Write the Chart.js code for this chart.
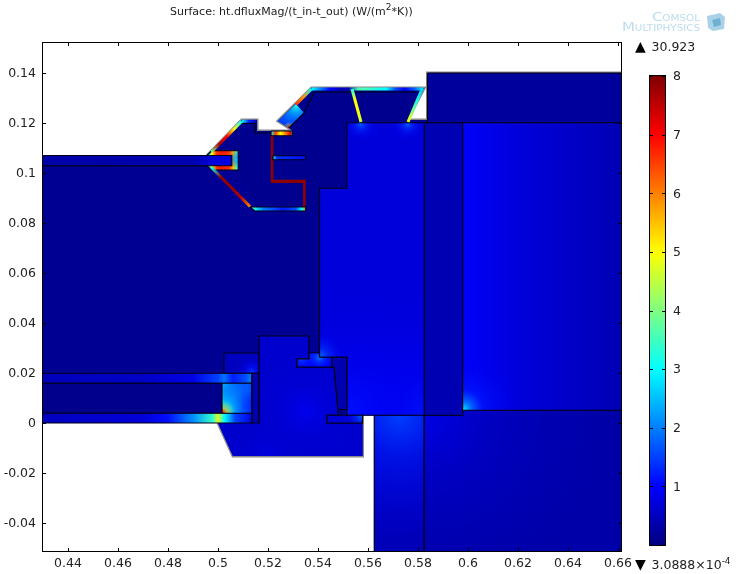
<!DOCTYPE html>
<html lang="en">
<head>
  <meta charset="UTF-8">
  <title>Surface: ht.dfluxMag/(t_in-t_out)</title>
  <script src="https://cdn.jsdelivr.net/npm/chart.js"></script>
  <style>
    html, body { margin: 0; padding: 0; background: #fff; }
    body { width: 741px; height: 574px; position: relative; overflow: hidden; font-family: "DejaVu Sans", sans-serif; color: #222; }
    canvas { position: absolute; }
    .label { position: absolute; white-space: nowrap; font-size: 12.5px; }
    .label sup { font-size: 9px; line-height: 0; }
    .label .mark { display: inline-block; width: 16.5px; font-size: 14px; color: #000; }
    #title { left: 170px; top: 5px; font-size: 11px; }
    #maxLabel { left: 635px; top: 38px; }
    #minLabel { left: 635px; top: 556px; }
    .logo { position: absolute; color: #bcdcee; white-space: nowrap; font-size: 11.5px; font-variant: small-caps; transform-origin: right center; transform: scaleX(1.3); }
    #logo1 { right: 41px; top: 10px; }
    #logo2 { right: 41px; top: 20px; }
    #cube { position: absolute; left: 706px; top: 13px; }
  </style>
</head>
<body>
  <canvas id="fieldChart" width="741" height="574" style="left:0;top:0"></canvas>
  <canvas id="barChart" width="80" height="510" style="left:640px;top:55px"></canvas>
  <div class="label" id="title">Surface: ht.dfluxMag/(t_in-t_out) (W/(m<sup>2</sup>*K))</div>
  <div class="label" id="maxLabel"><span class="mark">▲</span>30.923</div>
  <div class="label" id="minLabel"><span class="mark">▼</span>3.0888×10<sup>-4</sup></div>
  <div class="logo" id="logo1">Comsol</div>
  <div class="logo" id="logo2">Multiphysics</div>
  <svg id="cube" width="20" height="19">
    <polygon points="1,3 14,0 19,4 18,16 7,18 2,15" fill="#a9d2e8"/>
    <polygon points="6,7 14,5 15,12 8,14" fill="#6fb0d2"/>
  </svg>

  <script>
    // axis ticks
    const xTicks = [0.44, 0.46, 0.48, 0.5, 0.52, 0.54, 0.56, 0.58, 0.6, 0.62, 0.64, 0.66];
    const yTicks = [-0.04, -0.02, 0, 0.02, 0.04, 0.06, 0.08, 0.1, 0.12, 0.14];
    const barTicks = [1, 2, 3, 4, 5, 6, 7, 8];
    const barMax = 8;

    // geometry (metres)
    const silhouette = [[.4296,.107],[.4956,.107],[.5095,.1212],[.5156,.1212],[.5156,.1168],[.5297,.1168],[.5284,.118],[.524,.1208],[.5374,.134],[.5825,.134],[.5758,.1212],[.5838,.1212],[.5838,.14],[.6616,.14],[.6616,-.0516],[.5625,-.0516],[.5625,.0031],[.5578,.0031],[.5578,-.0132],[.506,-.0132],[.5,0],[.4296,0]];
    const shaftBody = [[.4296,.1029],[.5055,.1029],[.5095,.0972],[.5156,.0864],[.5351,.0848],[.5406,.0848],[.5406,.0281],[.5364,.0281],[.5364,.0348],[.5164,.0348],[.5164,.028],[.5024,.028],[.5024,.0199],[.4296,.0199]];
    const shaftStrip = [[.4296,.107],[.5055,.107],[.5055,.1029],[.4296,.1029]];
    const stripTop = [[.4296,.0199],[.5135,.0199],[.5135,.0159],[.4296,.0159]];
    const stripMid = [[.4296,.0159],[.5016,.0159],[.5016,.0039],[.4296,.0039]];
    const stripLow = [[.4296,.0039],[.5135,.0039],[.5135,0],[.4296,0]];
    const hotBox = [[.5016,.0159],[.5135,.0159],[.5135,.0039],[.5016,.0039]];
    const collar = [[.5024,.028],[.5164,.028],[.5164,.0199],[.5024,.0199]];
    const sleeve = [[.5135,.0199],[.5164,.0199],[.5164,0],[.5135,0]];
    const hub = [[.5164,.0348],[.5364,.0348],[.5364,.0256],[.5316,.0256],[.5316,.0224],[.5464,.0224],[.548,.0054],[.548,.0031],[.5436,.0031],[.5436,0],[.5578,0],[.5578,-.0132],[.506,-.0132],[.5,0],[.5164,0]];
    const hubLine = [[.5164,0],[.5164,.0348],[.5364,.0348],[.5364,.0256],[.5316,.0256],[.5316,.0224],[.5464,.0224],[.548,.0054],[.548,.0031],[.5436,.0031],[.5436,0],[.5578,0]];
    const hubStep = [[.5364,.0281],[.5406,.0281],[.5406,.0263],[.5455,.0263],[.5455,.0224],[.5316,.0224],[.5316,.0256],[.5364,.0256]];
    const wedge = [[.5455,.0263],[.5515,.0263],[.5515,.0054],[.548,.0054],[.5464,.0224],[.5455,.0224]];
    const foot = [[.5436,.0031],[.5578,.0031],[.5578,0],[.5436,0]];
    const centre = [[.5406,.0939],[.5515,.0939],[.5515,.1201],[.5825,.1201],[.5825,.0031],[.5515,.0031],[.5515,.0263],[.5406,.0263]];
    const column = [[.5825,.1201],[.5978,.1201],[.5978,.0031],[.5825,.0031]];
    const rightBlock = [[.5978,.1201],[.6616,.1201],[.6616,.0051],[.5978,.0051]];
    const topBlock = [[.5838,.14],[.6616,.14],[.6616,.1201],[.5838,.1201]];
    const lowerRight = [[.5825,.0031],[.5978,.0031],[.5978,.0051],[.6616,.0051],[.6616,-.0516],[.5825,-.0516]];
    const pier = [[.5625,.0031],[.5825,.0031],[.5825,-.0516],[.5625,-.0516]];
    const pocket = [[.4956,.107],[.4975,.1089],[.5081,.1089],[.5081,.1012],[.4975,.1012],[.4956,.1029]];
    const vane = [[.524,.1208],[.5312,.1276],[.5344,.124],[.5284,.118]];
    const bottomBar = [[.5128,.0864],[.5351,.0864],[.5351,.0848],[.5148,.0848]];
    const upperBar = [[.5212,.1168],[.5297,.1168],[.5297,.1149],[.5212,.1149]];
    const ribA = [[.5211,.1152],[.5222,.1152],[.5222,.0972],[.5211,.0972]];
    const ribB = [[.5211,.0973],[.5351,.0973],[.5351,.096],[.5211,.096]];
    const ribC = [[.534,.0973],[.5351,.0973],[.5351,.0848],[.534,.0848]];
    const ribThin = [[.522,.1069],[.5351,.1069],[.5351,.1053],[.522,.1053]];

    // heat values along strips: [position, value]
    const stripTopStops = [[.4296,.45],[.47,.55],[.49,.8],[.5,1.5],[.5024,1.9],[.506,1.2],[.511,1.6],[.5135,2]];
    const stripLowStops = [[.4296,.5],[.47,.7],[.48,1.1],[.49,2.1],[.498,3.4],[.5,4.8],[.5025,3],[.507,1.5],[.5135,.8]];
    const pocketStops = [[.4956,1.5],[.4966,3],[.4975,5],[.4995,6.6],[.5012,6.8],[.5045,6.6],[.506,5.6],[.5075,3.6],[.5081,3]];
    const bottomBarStops = [[.5128,5],[.5145,3.2],[.518,2],[.526,1.2],[.531,1.6],[.5335,3],[.5351,6]];
    const upperBarStops = [[.5212,3],[.523,6.5],[.525,5],[.527,6],[.529,7],[.5297,3]];
    const ribThinStops = [[.522,3.2],[.5235,1.4],[.5351,1.1]];
    const shaftStripStops = [[.4296,.32],[.49,.38],[.498,.7],[.5055,.8]];
    const hotBoxStops = [[.5016,3.2],[.5024,2.3],[.505,2],[.5135,1.6]];
    const rightBlockStops = [[.5978,.95],[.62,.72],[.6616,.42]];

    // local hot spots: [x, y, radius, value]
    const centreGlows = [[.5406,.0265,.009,1.9],[.5515,.0045,.06,1.1],[.5825,.0035,.05,1.2],[.5572,.1195,.006,1.7],[.5758,.1195,.006,1.7]];
    const rightGlows = [[.5982,.0055,.008,2.8],[.5982,.0055,.022,1.5]];
    const lowerRightGlows = [[.5825,.003,.075,.8]];
    const pierGlows = [[.5725,.003,.05,1.5]];
    const hubGlows = [[.535,.005,.032,.85],[.52,-.013,.025,.8]];
    const hotBoxGlows = [[.5019,.0042,.005,7],[.5024,.0048,.012,3.2],[.502,.0159,.01,2.4],[.5125,.005,.008,1.3]];
    const collarGlows = [[.5135,.0205,.006,1.4]];
    const hubStepGlows = [[.5406,.0262,.005,2],[.5336,.0265,.006,1.8]];
    const footGlows = [[.5578,.0031,.006,2]];
    const vaneGlows = [[.5312,.1272,.009,3.4],[.5284,.1183,.0022,7.5]];
    const pocketGlows = [[.5075,.1055,.0035,2.6]];
    const shaftGlows = [[.5351,.09,.006,1.1]];

    // hot thin walls: [x0, y0, x1, y1] and values along them
    const wallDiagA = [.4974,.1084,.5095,.1207];
    const wallDiagAVals = [4, 7.6, 7, 5, 3];
    const wallDiagB = [.4974,.1022,.5128,.0866];
    const wallDiagBVals = [3, 7.8, 7.8, 7.6, 6];
    const wallShelf = [.5095,.1207,.5156,.1207];
    const wallShelfVals = [3.2, 1.2, .4];
    const wallDiagC = [.5312,.1274,.5374,.1336];
    const wallDiagCVals = [6.6, 5.8, 3];
    const wallRoof = [.5374,.1336,.5822,.1336];
    const wallRoofVals = [3, 2, 1, .5, .4, 3.6, 3.5, 3.2, 3, 1.6, .9, 1.7, 3];
    const strutA = [.5536,.1336,.5572,.1204];
    const strutAVals = [3.2, 5, 5, 4.6];
    const strutB = [.5816,.1336,.576,.1204];
    const strutBVals = [2.6, 3.2, 4, 5];

    // black lines inside the housing, grey shadow outside it
    const roofLine = [[.5344,.124],[.5385,.1324],[.5812,.1324],[.5758,.1205]];
    const vaneEdge = [[.5344,.124],[.5284,.118]];
    const shelfLine = [[.5093,.1198],[.5148,.1198],[.5148,.116],[.5212,.116]];
    const shadowUpper = [[.4956,.107],[.5095,.1212],[.5156,.1212],[.5156,.1168],[.5297,.1168],[.5284,.118],[.524,.1208],[.5374,.134],[.5825,.134],[.5758,.1212],[.5838,.1212],[.5838,.14],[.6616,.14]];
    const shadowLower = [[.5578,.0031],[.5578,-.0132],[.506,-.0132],[.5,0]];

    function jet(v, alpha = 1) {
      const t = Math.max(0, Math.min(1, v / barMax));
      const ramp = d => Math.max(0, Math.min(1, 1.5 - Math.abs(4 * t - d)));
      const c = [ramp(3), ramp(2), ramp(1)].map(k => Math.round(k * 255));
      return `rgba(${c[0]},${c[1]},${c[2]},${alpha})`;
    }

    const closed = pts => pts.concat([pts[0]]).map(p => ({ x: p[0], y: p[1] }));

    // horizontal gradient from [position, value] stops
    function stopsFill(stops) {
      return c => {
        const sx = c.chart.scales.x;
        const a = stops[0][0], b = stops[stops.length - 1][0];
        const x0 = sx.getPixelForValue(a), x1 = sx.getPixelForValue(b);
        if (!Number.isFinite(x0) || !Number.isFinite(x1)) return jet(stops[0][1]);
        const g = c.chart.ctx.createLinearGradient(x0, 0, x1, 0);
        stops.forEach(s => g.addColorStop((s[0] - a) / (b - a), jet(s[1])));
        return g;
      };
    }

    function region(pts, fillValue, glows, outline = true) {
      return {
        data: closed(pts),
        showLine: true,
        fill: 'shape',
        backgroundColor: Array.isArray(fillValue) ? stopsFill(fillValue) : jet(fillValue),
        borderColor: '#000018',
        borderWidth: outline ? 1.2 : 0,
        glows: glows || [],
        polygon: pts
      };
    }

    function wall(seg, vals) {
      return {
        data: [{ x: seg[0], y: seg[1] }, { x: seg[2], y: seg[3] }],
        showLine: true,
        fill: false,
        borderWidth: 3,
        borderColor: c => {
          const { x: sx, y: sy } = c.chart.scales;
          const x0 = sx.getPixelForValue(seg[0]), y0 = sy.getPixelForValue(seg[1]);
          const x1 = sx.getPixelForValue(seg[2]), y1 = sy.getPixelForValue(seg[3]);
          if (![x0, y0, x1, y1].every(Number.isFinite)) return jet(vals[0]);
          const g = c.chart.ctx.createLinearGradient(x0, y0, x1, y1);
          vals.forEach((v, i) => g.addColorStop(i / (vals.length - 1), jet(v)));
          return g;
        }
      };
    }

    function edge(pts, color = '#000018', width = 1.2) {
      return { data: pts.map(p => ({ x: p[0], y: p[1] })), showLine: true, fill: false, borderWidth: width, borderColor: color };
    }

    const datasets = [
      edge(shadowUpper, '#8a8a8a', 3),
      edge(shadowLower, '#8a8a8a', 3),
      region(silhouette, .12, [], false),
      region(shaftBody, .15, shaftGlows, false),
      region(topBlock, .22),
      edge([[.4296,.1029],[.5,.1029]]),
      region(pier, .45, pierGlows),
      region(lowerRight, .32, lowerRightGlows),
      region(rightBlock, rightBlockStops, rightGlows),
      region(column, .4),
      region(centre, .72, centreGlows),
      region(hub, .62, hubGlows, false),
      edge(hubLine),
      region(wedge, .38),
      region(foot, .7, footGlows),
      region(hubStep, .95, hubStepGlows),
      region(collar, .5, collarGlows),
      region(sleeve, .35),
      region(stripTop, stripTopStops),
      region(stripMid, .1),
      region(stripLow, stripLowStops),
      region(hotBox, hotBoxStops, hotBoxGlows),
      region(pocket, pocketStops, pocketGlows),
      region(shaftStrip, shaftStripStops),
      region(vane, 1.5, vaneGlows, false),
      region(ribA, 7.9, [], false),
      region(ribB, 7.9, [], false),
      region(ribC, 7.9, [], false),
      region(ribThin, ribThinStops),
      region(upperBar, upperBarStops),
      region(bottomBar, bottomBarStops),
      edge(roofLine),
      edge(vaneEdge),
      edge(shelfLine),
      wall(wallDiagA, wallDiagAVals),
      wall(wallDiagB, wallDiagBVals),
      wall(wallShelf, wallShelfVals),
      wall(wallDiagC, wallDiagCVals),
      wall(wallRoof, wallRoofVals),
      wall(strutA, strutAVals),
      wall(strutB, strutBVals)
    ];
    datasets.forEach((d, i) => { d.order = datasets.length - i; });

    // paints the hot spots of a region, clipped to its polygon, over its fill
    const glowPlugin = {
      id: 'glows',
      beforeDatasetDraw(chart, args) {
        const ds = chart.data.datasets[args.index];
        if (!ds.glows || !ds.glows.length) return;
        const { ctx, scales: { x: sx, y: sy } } = chart;
        ctx.save();
        ctx.beginPath();
        ds.polygon.forEach(p => ctx.lineTo(sx.getPixelForValue(p[0]), sy.getPixelForValue(p[1])));
        ctx.closePath();
        ctx.clip();
        ds.glows.slice().reverse().forEach(([gx, gy, r, v]) => {
          const px = sx.getPixelForValue(gx), py = sy.getPixelForValue(gy);
          const pr = Math.abs(sx.getPixelForValue(gx + r) - px);
          const g = ctx.createRadialGradient(px, py, 0, px, py, pr);
          g.addColorStop(0, jet(v, 1));
          g.addColorStop(0.35, jet(v * .8, .6));
          g.addColorStop(1, jet(v * .6, 0));
          ctx.fillStyle = g;
          ctx.fillRect(px - pr, py - pr, 2 * pr, 2 * pr);
        });
        ctx.restore();
      }
    };

    // short inward ticks on all four sides
    const frameTicks = {
      id: 'frameTicks',
      afterDraw(chart) {
        const { ctx, chartArea: a, scales: { x: sx, y: sy } } = chart;
        ctx.save();
        ctx.strokeStyle = '#000';
        ctx.lineWidth = 1;
        ctx.strokeRect(a.left + .5, a.top + .5, a.right - a.left - 1, a.bottom - a.top - 1);
        ctx.beginPath();
        xTicks.forEach(v => {
          const p = Math.round(sx.getPixelForValue(v)) + .5;
          ctx.moveTo(p, a.top); ctx.lineTo(p, a.top + 4);
          ctx.moveTo(p, a.bottom); ctx.lineTo(p, a.bottom - 4);
        });
        yTicks.forEach(v => {
          const p = Math.round(sy.getPixelForValue(v)) + .5;
          ctx.moveTo(a.left, p); ctx.lineTo(a.left + 4, p);
          ctx.moveTo(a.right, p); ctx.lineTo(a.right - 4, p);
        });
        ctx.stroke();
        ctx.restore();
      }
    };

    const tickFont = { family: '"DejaVu Sans", sans-serif', size: 12.5 };
    const tickText = v => String(+v.toFixed(2));

    new Chart(document.getElementById('fieldChart'), {
      type: 'scatter',
      data: { datasets },
      options: {
        responsive: false,
        animation: false,
        devicePixelRatio: 1,
        layout: { padding: { top: 42, right: 119, left: 0, bottom: 0 } },
        elements: { point: { radius: 0 }, line: { tension: 0, borderCapStyle: 'butt', borderJoinStyle: 'miter' } },
        plugins: { legend: { display: false }, tooltip: { enabled: false } },
        scales: {
          x: {
            type: 'linear', min: .4296, max: .6616,
            afterBuildTicks: s => { s.ticks = xTicks.map(value => ({ value })); },
            afterFit: s => { s.height = 22; },
            grid: { display: false, drawTicks: false },
            border: { display: false },
            ticks: { font: tickFont, color: '#222', padding: 4, maxRotation: 0, autoSkip: false, callback: tickText }
          },
          y: {
            type: 'linear', min: -.0516, max: .1524,
            afterBuildTicks: s => { s.ticks = yTicks.map(value => ({ value })); },
            afterFit: s => { s.width = 42; },
            grid: { display: false, drawTicks: false },
            border: { display: false },
            ticks: { font: tickFont, color: '#222', padding: 6, labelOffset: 1, autoSkip: false, callback: tickText }
          }
        }
      },
      plugins: [glowPlugin, frameTicks]
    });

    // colour bar
    const barTickMarks = {
      id: 'barTickMarks',
      afterDraw(chart) {
        const { ctx, chartArea: a, scales: { y } } = chart;
        ctx.save();
        ctx.strokeStyle = '#000';
        ctx.lineWidth = 1;
        ctx.strokeRect(a.left - .5, a.top - .5, a.right - a.left + 1, a.bottom - a.top + 1);
        ctx.beginPath();
        barTicks.forEach(v => {
          const p = Math.round(y.getPixelForValue(v)) + .5;
          ctx.moveTo(a.left, p); ctx.lineTo(a.left + 3, p);
          ctx.moveTo(a.right, p); ctx.lineTo(a.right - 3, p);
        });
        ctx.stroke();
        ctx.restore();
      }
    };

    new Chart(document.getElementById('barChart'), {
      type: 'bar',
      data: {
        labels: ['value'],
        datasets: [{
          data: [barMax],
          barPercentage: 1,
          categoryPercentage: 1,
          borderWidth: 0,
          backgroundColor: c => {
            const y = c.chart.scales.y;
            const y0 = y.getPixelForValue(0), y1 = y.getPixelForValue(barMax);
            if (!Number.isFinite(y0) || !Number.isFinite(y1)) return jet(1);
            const g = c.chart.ctx.createLinearGradient(0, y0, 0, y1);
            [0, 1, 3, 5, 7, 8].forEach(v => g.addColorStop(v / barMax, jet(v)));
            return g;
          }
        }]
      },
      options: {
        responsive: false,
        animation: false,
        devicePixelRatio: 1,
        layout: { padding: { left: 10, top: 21, bottom: 20, right: 0 } },
        plugins: { legend: { display: false }, tooltip: { enabled: false } },
        scales: {
          x: { display: false },
          y: {
            position: 'right', min: 0, max: barMax,
            afterBuildTicks: s => { s.ticks = barTicks.map(value => ({ value })); },
            afterFit: s => { s.width = 55; },
            grid: { display: false, drawTicks: false },
            border: { display: false },
            ticks: { font: tickFont, color: '#222', padding: 8, labelOffset: 1 }
          }
        }
      },
      plugins: [barTickMarks]
    });
  </script>
</body>
</html>
